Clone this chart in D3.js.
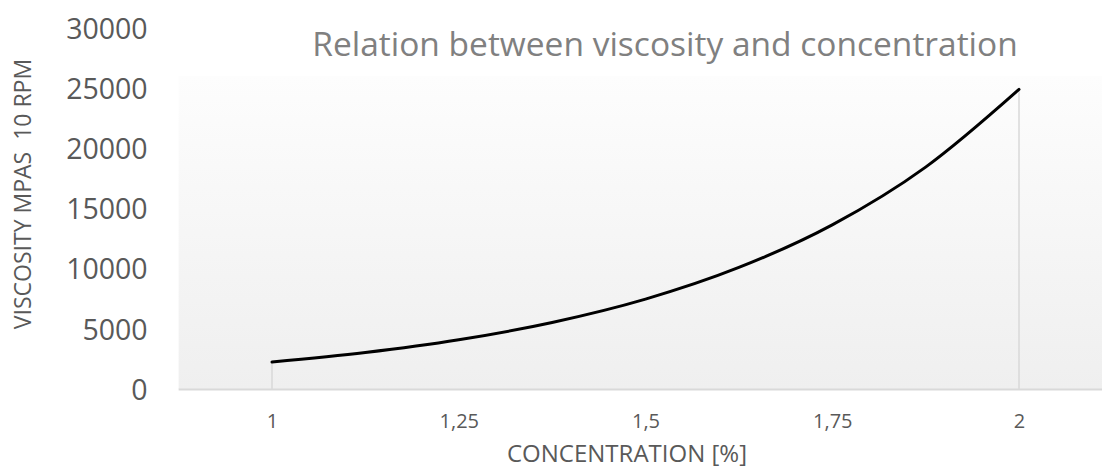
<!DOCTYPE html>
<html>
<head>
<meta charset="utf-8">
<script src="https://cdn.jsdelivr.net/npm/d3@7"></script>
<style>
  html, body { margin: 0; padding: 0; background: #fff; }
  svg { display: block; font-family: "Open Sans", sans-serif; }
</style>
</head>
<body>
<svg id="chart" width="1102" height="468"></svg>
<script>
// ---- data ----
const concentration = [1, 1.125, 1.25, 1.375, 1.5, 1.625, 1.75, 1.875, 2];
const viscosity     = [2240, 3030, 4090, 5530, 7470, 10100, 13640, 18440, 24900];
const xTickValues   = [1, 1.25, 1.5, 1.75, 2];
const xTickLabels   = ["1", "1,25", "1,5", "1,75", "2"];
const yTickValues   = [0, 5000, 10000, 15000, 20000, 25000, 30000];
const chartTitle    = "Relation between viscosity and concentration";
const xAxisTitle    = "CONCENTRATION [%]";
const yAxisTitle    = "VISCOSITY MPAS  10 RPM";

const svg = d3.select("#chart");

const x = d3.scaleLinear().domain([1, 2]).range([272, 1019]);
const y = d3.scaleLinear().domain([0, 30000]).range([389, 28]);
const xLo = x(0.875), xHi = x(2.125);
const plotTop = 76;

// background gradient
const defs = svg.append("defs");
const grad = defs.append("linearGradient").attr("id", "bg")
  .attr("x1", 0).attr("y1", 0).attr("x2", 0).attr("y2", 1);
grad.append("stop").attr("offset", "0%").attr("stop-color", "#fdfdfd");
grad.append("stop").attr("offset", "100%").attr("stop-color", "#efefef");

svg.append("rect")
  .attr("x", xLo).attr("y", plotTop)
  .attr("width", xHi - xLo).attr("height", y(0) - plotTop)
  .attr("fill", "url(#bg)");

const data = concentration.map((c, i) => ({ c, v: viscosity[i] }));

// drop lines at first and last point
const ends = [data[0], data[data.length - 1]];
svg.selectAll("line.drop").data(ends).enter().append("line")
  .attr("class", "drop")
  .attr("x1", d => x(d.c)).attr("x2", d => x(d.c))
  .attr("y1", d => y(d.v)).attr("y2", y(0))
  .attr("stroke", "#d9d9d9").attr("stroke-width", 1.5);

// x axis
const xAxis = d3.axisBottom(x)
  .tickValues(xTickValues)
  .tickFormat((d, i) => xTickLabels[i])
  .tickSize(0).tickPadding(25);
const gx = svg.append("g").attr("transform", `translate(0,${y(0)})`).call(xAxis);
gx.select(".domain").remove();
gx.selectAll("text").attr("fill", "#595959").style("font-size", "20px")
  .style("font-family", "'Open Sans', sans-serif");
svg.append("line")
  .attr("x1", xLo).attr("x2", xHi)
  .attr("y1", y(0) + 0.5).attr("y2", y(0) + 0.5)
  .attr("stroke", "#d9d9d9").attr("stroke-width", 2);

// y axis
const yAxis = d3.axisLeft(y).tickValues(yTickValues).tickFormat(d3.format("d"))
  .tickSize(0).tickPadding(31);
const gy = svg.append("g").attr("transform", `translate(${xLo},0)`).call(yAxis);
gy.select(".domain").remove();
gy.selectAll("text").attr("fill", "#595959").style("font-size", "28.5px")
  .style("font-family", "'Open Sans', sans-serif").attr("dy", "0.36em");

// curve
const line = d3.line().x(d => x(d.c)).y(d => y(d.v)).curve(d3.curveMonotoneX);
svg.append("path").datum(data)
  .attr("d", line)
  .attr("fill", "none").attr("stroke", "#000").attr("stroke-width", 3)
  .attr("stroke-linecap", "round");

// titles
svg.append("text")
  .attr("x", 665).attr("y", 56)
  .attr("text-anchor", "middle")
  .attr("fill", "#808080")
  .style("font-size", "33.5px")
  .text(chartTitle);

svg.append("text")
  .attr("x", 627).attr("y", 462)
  .attr("text-anchor", "middle")
  .attr("fill", "#595959")
  .style("font-size", "24px")
  .text(xAxisTitle);

svg.append("text")
  .attr("transform", "translate(31,194) rotate(-90)")
  .attr("text-anchor", "middle")
  .attr("fill", "#595959")
  .style("font-size", "23px")
  .style("white-space", "pre")
  .text(yAxisTitle);
</script>
</body>
</html>
